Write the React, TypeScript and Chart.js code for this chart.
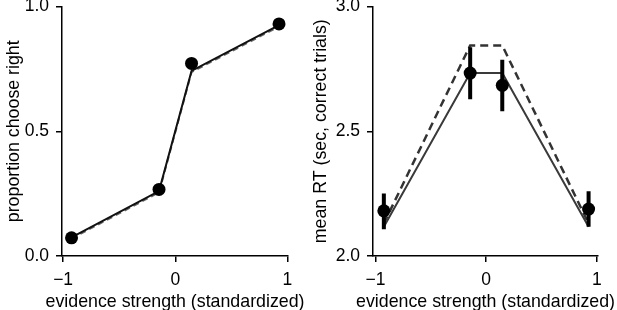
import React, { useEffect, useRef } from "react";
import { Chart, registerables } from "chart.js";

Chart.register(...registerables);

// ---- data ----
const evidence = [-0.925, -0.145, 0.145, 0.925];
const xTickValues = [-1, 0, 1];

const choiceData = [0.073, 0.267, 0.772, 0.93];
const choiceModelSolid = [0.075, 0.26, 0.742, 0.925];
const choiceModelDashed = [0.07, 0.255, 0.737, 0.92];
const choiceYTicks = [0, 0.5, 1];

const rtData = [2.181, 2.733, 2.684, 2.188];
const rtErrLow = [2.107, 2.628, 2.58, 2.117];
const rtErrHigh = [2.251, 2.837, 2.787, 2.26];
const rtModelSolid = [2.117, 2.733, 2.733, 2.117];
const rtModelDashed = [2.13, 2.844, 2.844, 2.13];
const rtYTicks = [2, 2.5, 3];

const xTitle = "evidence strength (standardized)";
const choiceYTitle = "proportion choose right";
const rtYTitle = "mean RT (sec, correct trials)";

const FAMILY = "'Liberation Sans', Arial, Helvetica, sans-serif";
const FONT_SIZE = 17.5;
const TITLE_SIZE = 17.8;

const pts = (ys: number[]) => evidence.map((x, i) => ({ x, y: ys[i] }));

const fmtX = (v: number) => (v < 0 ? "\u2212" + Math.abs(v) : String(v));

// x-axis title drawn centred under the plot area without width compression
const xTitlePlugin = {
  id: "xTitleFree",
  afterDraw(chart: any) {
    const { ctx, chartArea } = chart;
    ctx.save();
    ctx.font = `${TITLE_SIZE}px ${FAMILY}`;
    ctx.fillStyle = "#000";
    ctx.textAlign = "center";
    ctx.textBaseline = "alphabetic";
    ctx.fillText(xTitle, (chartArea.left + chartArea.right) / 2, chartArea.bottom + 50.5);
    ctx.restore();
  },
};

type PanelCfg = {
  width: number;
  yWidth: number;
  rightPad: number;
  xMin: number;
  xMax: number;
  yMin: number;
  yMax: number;
  yTicks: number[];
  yTitle: string;
  yTitlePad: number;
};

function buildOptions(c: PanelCfg): any {
  const font = { family: FAMILY, size: FONT_SIZE };
  const titleFont = { family: FAMILY, size: TITLE_SIZE };
  return {
    responsive: false,
    animation: false,
    devicePixelRatio: 1,
    layout: { padding: { top: 6, right: c.rightPad, left: 0, bottom: 0 } },
    plugins: { legend: { display: false }, tooltip: { enabled: false } },
    scales: {
      x: {
        type: "linear",
        min: c.xMin,
        max: c.xMax,
        afterBuildTicks: (s: any) => {
          s.ticks = xTickValues.map((v) => ({ value: v }));
        },
        afterFit: (s: any) => {
          s.height = 54;
          s.paddingLeft = 0;
          s.paddingRight = 0;
        },
        grid: { drawOnChartArea: false, drawTicks: true, tickLength: 6, color: "#000", lineWidth: 1.5 },
        border: { display: true, color: "#000", width: 1.5 },
        ticks: { color: "#000", font, padding: 8, maxRotation: 0, callback: (v: number) => fmtX(v) },
        title: { display: false },
      },
      y: {
        type: "linear",
        min: c.yMin,
        max: c.yMax,
        afterBuildTicks: (s: any) => {
          s.ticks = c.yTicks.map((v) => ({ value: v }));
        },
        afterFit: (s: any) => {
          s.width = c.yWidth;
          s.paddingTop = 0;
          s.paddingBottom = 0;
        },
        grid: { drawOnChartArea: false, drawTicks: true, tickLength: 6, color: "#000", lineWidth: 1.5 },
        border: { display: true, color: "#000", width: 1.5 },
        ticks: { color: "#000", font, padding: 7, callback: (v: number) => v.toFixed(1) },
        title: { display: true, text: c.yTitle, color: "#000", font: titleFont, padding: { top: c.yTitlePad, bottom: 0 } },
      },
    },
  };
}

const lineDs = (ys: number[], color: string, width: number, dash: number[] = []) => ({
  data: pts(ys),
  showLine: true,
  borderColor: color,
  borderWidth: width,
  borderDash: dash,
  pointRadius: 0,
  tension: 0,
  fill: false,
});

const pointDs = (ys: number[]) => ({
  data: pts(ys),
  showLine: false,
  pointRadius: 6.5,
  pointBackgroundColor: "#000",
  pointBorderColor: "#000",
  pointBorderWidth: 0,
});

function Panel({ left, cfg, datasets }: { left: number; cfg: PanelCfg; datasets: any[] }) {
  const ref = useRef<HTMLCanvasElement>(null);
  useEffect(() => {
    if (!ref.current) return;
    const chart = new Chart(ref.current, {
      type: "scatter",
      data: { datasets },
      options: buildOptions(cfg),
      plugins: [xTitlePlugin],
    });
    return () => chart.destroy();
  }, []);
  return (
    <canvas
      ref={ref}
      width={cfg.width}
      height={310}
      style={{ position: "absolute", left, top: 0, width: cfg.width, height: 310 }}
    />
  );
}

export default function App() {
  const leftCfg: PanelCfg = {
    width: 308,
    yWidth: 62,
    rightPad: 20,
    xMin: -1.01,
    xMax: 1.005,
    yMin: 0,
    yMax: 1,
    yTicks: choiceYTicks,
    yTitle: choiceYTitle,
    yTitlePad: 3,
  };
  const rightCfg: PanelCfg = {
    width: 309,
    yWidth: 65,
    rightPad: 19,
    xMin: -1.023,
    xMax: 1.01,
    yMin: 2,
    yMax: 3,
    yTicks: rtYTicks,
    yTitle: rtYTitle,
    yTitlePad: 2,
  };

  const leftDatasets = [
    pointDs(choiceData),
    lineDs(choiceModelSolid, "#111", 2),
    lineDs(choiceModelDashed, "#666", 2, [6, 4]),
  ];

  const errDatasets = evidence.map((x, i) => ({
    data: [
      { x, y: rtErrLow[i] },
      { x, y: rtErrHigh[i] },
    ],
    showLine: true,
    borderColor: "#000",
    borderWidth: 4,
    borderCapStyle: "butt",
    pointRadius: 0,
    tension: 0,
  }));

  const rightDatasets = [
    pointDs(rtData),
    ...errDatasets,
    lineDs(rtModelSolid, "#3a3a3a", 2),
    lineDs(rtModelDashed, "#333", 2.5, [8, 5]),
  ];

  return (
    <div style={{ position: "fixed", left: 0, top: 0, width: 617, height: 310, background: "#fff" }}>
      <Panel left={0} cfg={leftCfg} datasets={leftDatasets} />
      <Panel left={308} cfg={rightCfg} datasets={rightDatasets} />
    </div>
  );
}
